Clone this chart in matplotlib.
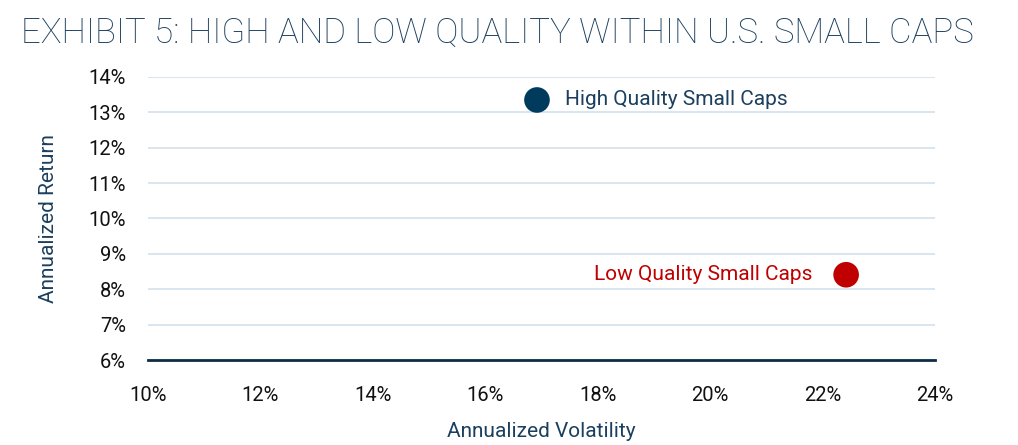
import matplotlib.pyplot as plt
from matplotlib.ticker import FuncFormatter

names = ['High Quality Small Caps', 'Low Quality Small Caps']
volatility = [16.92, 22.42]
returns = [13.35, 8.41]
colors = ['#003a5d', '#c00000']

navy = '#1b3f5e'
plt.rcParams['font.family'] = ['Roboto', 'DejaVu Sans']

fig = plt.figure(figsize=(10.18, 4.45), dpi=100)
ax = fig.add_axes([0.1454, 0.191, 0.773, 0.636])

ax.scatter(volatility, returns, s=340, c=colors, zorder=3, linewidths=0)
ax.annotate(names[0], (volatility[0], returns[0]), xytext=(20, 0), textcoords='offset points',
            ha='left', va='center', fontsize=15, color=navy)
ax.annotate(names[1], (volatility[1], returns[1]), xytext=(-24, 0), textcoords='offset points',
            ha='right', va='center', fontsize=15, color=colors[1])

ax.set_xlim(10, 24)
ax.set_ylim(6, 14)
ax.set_xticks(range(10, 25, 2))
ax.set_yticks(range(6, 15))
pct = FuncFormatter(lambda v, p: f'{v:.0f}%')
ax.xaxis.set_major_formatter(pct)
ax.yaxis.set_major_formatter(pct)
ax.tick_params(length=0, labelsize=14.5, labelcolor='#111111')
ax.tick_params(axis='y', pad=16)
ax.tick_params(axis='x', pad=19)
ax.grid(axis='y', color='#d5e3ee', linewidth=1.3)
ax.set_axisbelow(True)
for s in ['top', 'left', 'right']:
    ax.spines[s].set_visible(False)
ax.spines['bottom'].set_color('#0d2c48')
ax.spines['bottom'].set_linewidth(2)

ax.set_xlabel('Annualized Volatility', fontsize=15, color=navy, labelpad=12)
ax.set_ylabel('Annualized Return', fontsize=15, color=navy, labelpad=22)

fig.text(0.021, 0.925, 'EXHIBIT 5: HIGH AND LOW QUALITY WITHIN U.S. SMALL CAPS',
         fontsize=25, fontweight='light', color='#1b3f5e', ha='left', va='center')

fig.savefig('out.png', dpi=100)
